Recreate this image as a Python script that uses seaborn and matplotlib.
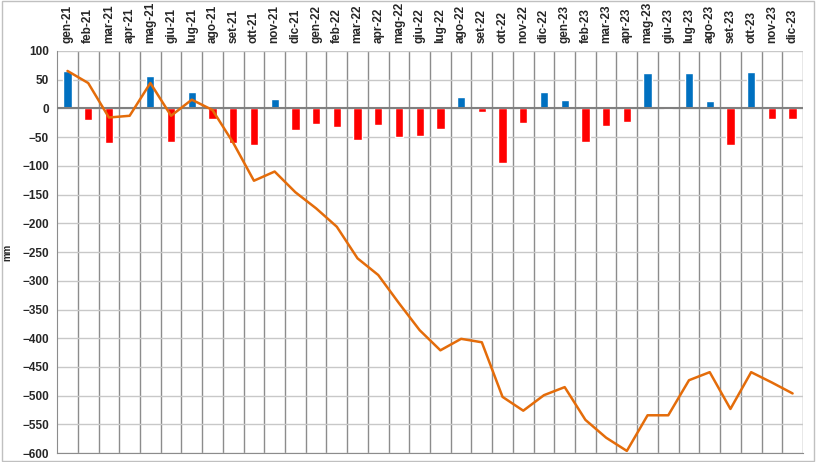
import matplotlib
matplotlib.use('Agg')
import matplotlib.pyplot as plt
import seaborn as sns
import numpy as np
import pandas as pd

months=['gen-21','feb-21','mar-21','apr-21','mag-21','giu-21','lug-21','ago-21','set-21','ott-21','nov-21','dic-21',
	'gen-22','feb-22','mar-22','apr-22','mag-22','giu-22','lug-22','ago-22','set-22','ott-22','nov-22','dic-22',
	'gen-23','feb-23','mar-23','apr-23','mag-23','giu-23','lug-23','ago-23','set-23','ott-23','nov-23','dic-23']
# monthly anomaly (mm)
anomaly=[65,-21,-60,0,56,-58,28,-19,-60,-64,16,-38,
	-27,-32,-55,-29,-50,-48,-36,20,-6,-95,-26,28,
	14,-59,-31,-23,61,-1,61,12,-64,63,-19,-18]
# cumulated anomaly (mm)
cumulated=[65,44,-16,-13,44,-13,15,-3,-60,-126,-110,-146,
	-174,-206,-261,-290,-339,-386,-421,-401,-407,-502,-526,-499,
	-485,-542,-573,-596,-534,-534,-473,-459,-523,-459,-477,-496]

df=pd.DataFrame({'month':months,'anomaly':anomaly,'cumulated':cumulated})
df['sign']=np.where(df.anomaly>=0,'pos','neg')

sns.set_style('white')
plt.rcParams['font.family']=['Liberation Sans','DejaVu Sans']

fig=plt.figure(figsize=(8.16,4.62),dpi=100)
ax=fig.add_axes([0.070,0.019,0.914,0.871])

sns.barplot(data=df,x='month',y='anomaly',hue='sign',palette={'pos':'#0070C0','neg':'#FF0000'},
	dodge=False,width=0.4,legend=False,ax=ax,saturation=1,zorder=3)
sns.lineplot(x=np.arange(len(months)),y=df.cumulated,color='#E46C0A',lw=1.8,ax=ax,
	estimator=None,sort=False,zorder=4)

ax.set_xlim(-0.5,len(months)-0.5)
ax.set_ylim(-600,100)
ax.set_yticks(np.arange(-600,101,50))
ax.yaxis.grid(True,color='#c8c8c8',lw=1,zorder=0)
ax.set_xticks(np.arange(len(months))+0.5,minor=True)
ax.xaxis.grid(True,which='minor',color='#8c8c8c',lw=1,zorder=0)
ax.axhline(0,color='#808080',lw=1.5,zorder=3)
ax.tick_params(axis='x',which='both',top=False,bottom=False,labeltop=True,labelbottom=False,pad=2)
ax.set_xticks(np.arange(len(months)))
ax.set_xticklabels(months,rotation=90,fontsize=8.5,fontweight='bold')
ax.tick_params(axis='y',length=3,pad=3,labelsize=8.5)
for t in ax.get_yticklabels():
	t.set_fontweight('bold')
ax.set_xlabel('')
ax.set_ylabel('mm',fontsize=7,fontweight='bold')
ax.yaxis.set_label_coords(-0.06,0.5)
for s in ['top','right']:
	ax.spines[s].set_visible(False)
ax.spines['left'].set_color('#8c8c8c')
ax.spines['bottom'].set_color('#8c8c8c')

fig.patches.append(plt.Rectangle((0.002,0.003),0.996,0.994,transform=fig.transFigure,fill=False,edgecolor='#c0c0c0',lw=1))

plt.savefig('out.png',dpi=100)
plt.close()
